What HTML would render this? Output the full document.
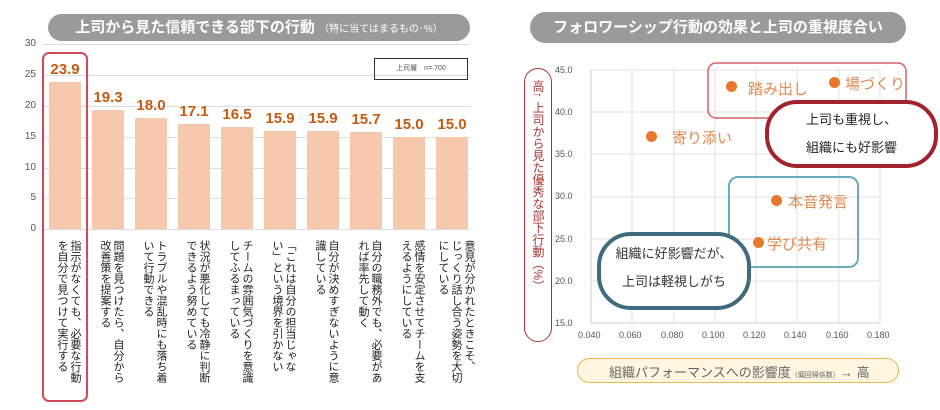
<!DOCTYPE html>
<html><head><meta charset="utf-8"><style>
body{margin:0;width:940px;height:410px;background:#fff;position:relative;overflow:hidden;font-family:"Liberation Sans","Noto Sans CJK JP",sans-serif}
.a{position:absolute}
.pill{background:#9a9a9a;color:#fff;font-weight:bold;border-radius:14px;text-align:center}
.yl{font-size:10px;color:#555;width:22px;text-align:right;left:14px}
.grid{left:43px;width:427px;height:1px;background:#ddd}
.bar{background:#f6c9ad;width:32px}
.val{color:#c55a11;font-weight:bold;font-size:15px;width:44px;text-align:center}
.vt{writing-mode:vertical-rl;font-size:11px;line-height:13px;color:#222;top:240px;height:160px;white-space:nowrap}
.pt{width:11px;height:11px;border-radius:50%;background:#e8772e}
.pl{color:#e08a50;font-size:15px;white-space:nowrap}
.ax{font-size:9px;color:#555}
</style></head><body>
<div class="a pill" style="left:48px;top:14px;width:422px;height:27px;line-height:27px;font-size:15px">上司から見た信頼できる部下の行動 <span style="font-size:10px;font-weight:normal">（特に当てはまるもの･%）</span></div>
<div class="a yl" style="top:38px">30</div><div class="a yl" style="top:69px">25</div><div class="a yl" style="top:100px">20</div><div class="a yl" style="top:131px">15</div><div class="a yl" style="top:162px">10</div><div class="a yl" style="top:192px">5</div><div class="a yl" style="top:223px">0</div>
<div class="a grid" style="top:44px"></div><div class="a grid" style="top:75px"></div><div class="a grid" style="top:106px"></div><div class="a grid" style="top:137px"></div><div class="a grid" style="top:168px"></div><div class="a grid" style="top:198px"></div><div class="a grid" style="top:229px"></div>
<div class="a" style="left:374px;top:58px;width:92px;height:20px;border:1.5px solid #333;font-size:7px;color:#555;line-height:20px;text-align:center">上司層　n= 700</div>
<div class="a bar" style="left:49px;top:82px;height:147px"></div>
<div class="a bar" style="left:92px;top:110px;height:119px"></div>
<div class="a bar" style="left:135px;top:118px;height:111px"></div>
<div class="a bar" style="left:178px;top:124px;height:105px"></div>
<div class="a bar" style="left:221px;top:127px;height:102px"></div>
<div class="a bar" style="left:264px;top:131px;height:98px"></div>
<div class="a bar" style="left:307px;top:131px;height:98px"></div>
<div class="a bar" style="left:350px;top:132px;height:97px"></div>
<div class="a bar" style="left:393px;top:137px;height:92px"></div>
<div class="a bar" style="left:436px;top:137px;height:92px"></div>
<div class="a val" style="left:43px;top:61px">23.9</div>
<div class="a val" style="left:86px;top:89px">19.3</div>
<div class="a val" style="left:129px;top:97px">18.0</div>
<div class="a val" style="left:172px;top:103px">17.1</div>
<div class="a val" style="left:215px;top:106px">16.5</div>
<div class="a val" style="left:258px;top:110px">15.9</div>
<div class="a val" style="left:301px;top:110px">15.9</div>
<div class="a val" style="left:344px;top:111px">15.7</div>
<div class="a val" style="left:387px;top:116px">15.0</div>
<div class="a val" style="left:430px;top:116px">15.0</div>
<div class="a" style="left:42px;top:52px;width:42px;height:346px;border:2px solid #d24a55;border-radius:7px"></div>
<div class="a vt" style="left:55px">指示がなくても、必要な行動<br>を自分で見つけて実行する</div>
<div class="a vt" style="left:98px">問題を見つけたら、自分から<br>改善策を提案する</div>
<div class="a vt" style="left:141px">トラブルや混乱時にも落ち着<br>いて行動できる</div>
<div class="a vt" style="left:184px">状況が悪化しても冷静に判断<br>できるよう努めている</div>
<div class="a vt" style="left:227px">チームの雰囲気づくりを意識<br>してふるまっている</div>
<div class="a vt" style="left:270px">「これは自分の担当じゃな<br>い」という境界を引かない</div>
<div class="a vt" style="left:313px">自分が決めすぎないように意<br>識している</div>
<div class="a vt" style="left:356px">自分の職務外でも、必要があ<br>れば率先して動く</div>
<div class="a vt" style="left:399px">感情を安定させてチームを支<br>えるようにしている</div>
<div class="a vt" style="left:436px">意見が分かれたときこそ、<br>じっくり話し合う姿勢を大切<br>にしている</div>

<div class="a pill" style="left:530px;top:12px;width:376px;height:31px;line-height:31px;font-size:15px;border-radius:16px">フォロワーシップ行動の効果と上司の重視度合い</div>
<svg class="a" style="left:0;top:0" width="940" height="410">
<g stroke="#e2e2e2" stroke-width="1">
<line x1="632" y1="70" x2="632" y2="323"/><line x1="674" y1="70" x2="674" y2="323"/><line x1="715" y1="70" x2="715" y2="323"/><line x1="756" y1="70" x2="756" y2="323"/><line x1="797" y1="70" x2="797" y2="323"/><line x1="839" y1="70" x2="839" y2="323"/><line x1="880" y1="70" x2="880" y2="323"/>
<line x1="591" y1="70" x2="880" y2="70"/><line x1="591" y1="112" x2="880" y2="112"/><line x1="591" y1="154" x2="880" y2="154"/><line x1="591" y1="197" x2="880" y2="197"/><line x1="591" y1="239" x2="880" y2="239"/><line x1="591" y1="281" x2="880" y2="281"/>
</g>
<line x1="591" y1="70" x2="591" y2="323" stroke="#ccc"/><line x1="591" y1="323" x2="880" y2="323" stroke="#ccc"/>
<rect x="708" y="63" width="198" height="55" rx="8" fill="none" stroke="#d9606a" stroke-width="1.5"/>
<rect x="729" y="177" width="129" height="90" rx="9" fill="none" stroke="#6aaabd" stroke-width="2"/>
</svg>
<div class="a ax" style="left:555px;top:65px">45.0</div><div class="a ax" style="left:555px;top:107px">40.0</div><div class="a ax" style="left:555px;top:149px">35.0</div><div class="a ax" style="left:555px;top:191px">30.0</div><div class="a ax" style="left:555px;top:234px">25.0</div><div class="a ax" style="left:555px;top:276px">20.0</div><div class="a ax" style="left:555px;top:318px">15.0</div>
<div class="a ax" style="left:578px;top:330px">0.040</div><div class="a ax" style="left:619px;top:330px">0.060</div><div class="a ax" style="left:661px;top:330px">0.080</div><div class="a ax" style="left:702px;top:330px">0.100</div><div class="a ax" style="left:743px;top:330px">0.120</div><div class="a ax" style="left:784px;top:330px">0.140</div><div class="a ax" style="left:826px;top:330px">0.160</div><div class="a ax" style="left:867px;top:330px">0.180</div>
<div class="a pt" style="left:726px;top:81px"></div><div class="a pl" style="left:748px;top:78px">踏み出し</div>
<div class="a pt" style="left:829px;top:77px"></div><div class="a pl" style="left:845px;top:73px">場づくり</div>
<div class="a pt" style="left:646px;top:131px"></div><div class="a pl" style="left:672px;top:127px">寄り添い</div>
<div class="a pt" style="left:771px;top:195px"></div><div class="a pl" style="left:788px;top:191px">本音発言</div>
<div class="a pt" style="left:753px;top:237px"></div><div class="a pl" style="left:767px;top:233px">学び共有</div>
<div class="a" style="left:765px;top:100px;width:165px;height:58px;border:4px solid #a0232d;border-radius:32px;background:#fff;text-align:center;font-size:13px;line-height:28px;color:#222;padding-top:2px">上司も重視し、<br>組織にも好影響</div>
<div class="a" style="left:597px;top:232px;width:146px;height:66px;border:4px solid #3f6b7e;border-radius:34px;background:#fff;text-align:center;font-size:13px;line-height:28px;color:#333;padding-top:4px">組織に好影響だが、<br>上司は軽視しがち</div>
<div class="a" style="left:524px;top:68px;width:26px;height:272px;border:1.5px solid #a33;border-radius:14px"></div>
<div class="a" style="left:530px;top:80px;writing-mode:vertical-rl;font-size:12px;color:#a33;line-height:16px;white-space:nowrap">高↑ 上司から見た優秀な部下行動（%）</div>
<div class="a" style="left:577px;top:358px;width:322px;height:25px;border:1.5px solid #e8b84a;border-radius:13px;background:#fff6e0;box-sizing:border-box"></div>
<div class="a" style="left:609px;top:362px;font-size:13px;color:#666;white-space:nowrap">組織パフォーマンスへの影響度<span style="font-size:7px">（偏回帰係数）</span></div>
<div class="a" style="left:840px;top:362px;font-size:13px;color:#666;white-space:nowrap">→ 高</div>
</body></html>
